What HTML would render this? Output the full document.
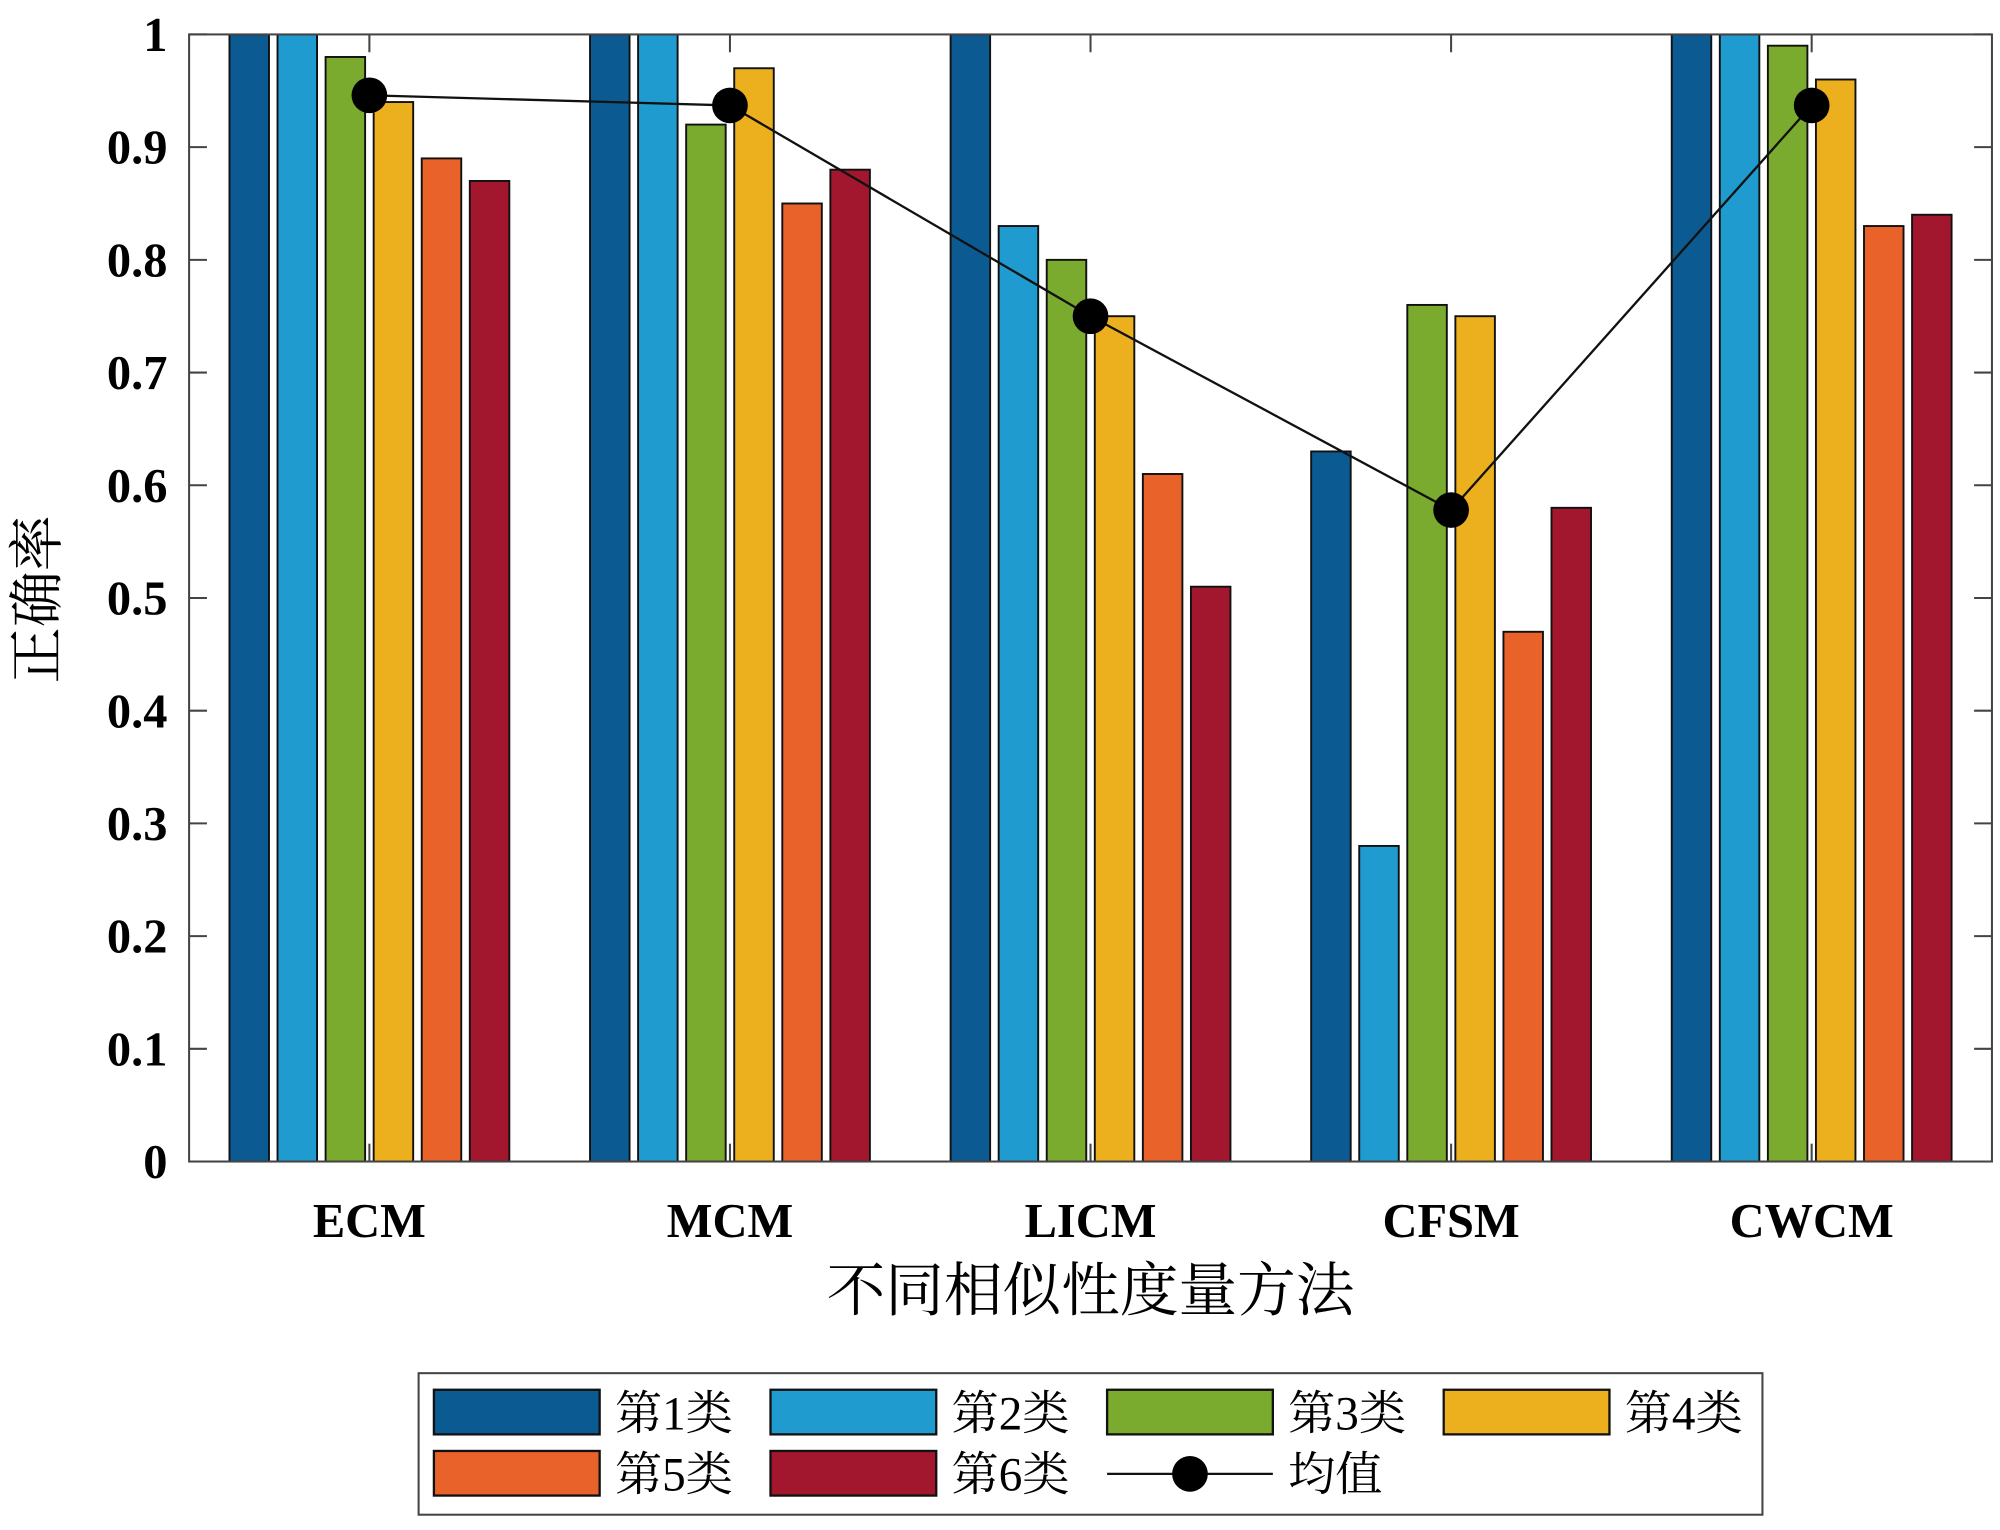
<!DOCTYPE html>
<html><head><meta charset="utf-8"><style>
html,body{margin:0;padding:0;background:#fff}
svg{display:block}
text{font-family:"Liberation Serif","Noto Serif CJK SC",serif;fill:#000}
</style></head><body>
<svg id="chart" width="2000" height="1530" viewBox="0 0 1568 1200" xmlns="http://www.w3.org/2000/svg">
<g id="plot"></g>
</svg>
<script>
const categories = ["ECM","MCM","LICM","CFSM","CWCM"];
const seriesNames = ["第1类","第2类","第3类","第4类","第5类","第6类"];
const s1 = [1,1,1,0.63,1];
const s2 = [1,1,0.83,0.28,1];
const s3 = [0.98,0.92,0.80,0.76,0.99];
const s4 = [0.94,0.97,0.75,0.75,0.96];
const s5 = [0.89,0.85,0.61,0.47,0.83];
const s6 = [0.87,0.88,0.51,0.58,0.84];
const meanValues = [0.946,0.937,0.75,0.578,0.937];
const yTicks = [0,0.1,0.2,0.3,0.4,0.5,0.6,0.7,0.8,0.9,1];
const yTickLabels = ["0","0.1","0.2","0.3","0.4","0.5","0.6","0.7","0.8","0.9","1"];

const colors = ["#0b5b92","#1f9bd0","#7aab2e","#ecb01f","#e8622a","#a2172d"];
const series = [s1,s2,s3,s4,s5,s6];
const L=148,R=1562,T=27,B=911;
const NS="http://www.w3.org/2000/svg";
const g=document.getElementById('plot');
function xScale(i){return L+(i+0.5)*(R-L)/categories.length;}
function yScale(v){return B-(v-0)/(1-0)*(B-T);}
function mk(tag,attrs,parent){const e=document.createElementNS(NS,tag);for(const k in attrs)e.setAttribute(k,attrs[k]);(parent||g).appendChild(e);return e;}

const clip=mk('clipPath',{id:'pc'});mk('rect',{x:L,y:T,width:R-L,height:B-T},clip);
const barsG=mk('g',{'clip-path':'url(#pc)'});
const step=37.7,bw=31;
series.forEach((s,si)=>{
  s.forEach((v,ci)=>{
    const x=xScale(ci)+(si-2.5)*step-bw/2;
    const r=mk('rect',{x:x,y:yScale(v),width:bw,height:B-yScale(v),fill:colors[si],stroke:'#111','stroke-width':1.5},barsG);
    
    
  });
});
const box=mk('rect',{x:L,y:T,width:R-L,height:B-T,fill:'none',stroke:'#444','stroke-width':1.6});


yTicks.forEach((t,i)=>{
  const y=yScale(t);
  mk('line',{x1:L,x2:L+14,y1:y,y2:y,stroke:'#444','stroke-width':1.6});
  mk('line',{x1:R,x2:R-14,y1:y,y2:y,stroke:'#444','stroke-width':1.6});
  const tx=mk('text',{x:131,y:y+13,'text-anchor':'end','font-size':38,'font-weight':'bold'});
  tx.textContent=yTickLabels[i];
  
  
});
categories.forEach((c,i)=>{
  const x=xScale(i);
  mk('line',{x1:x,x2:x,y1:B,y2:B-14,stroke:'#444','stroke-width':1.6});
  mk('line',{x1:x,x2:x,y1:T,y2:T+14,stroke:'#444','stroke-width':1.6});
  const tx=mk('text',{x:x,y:970,'text-anchor':'middle','font-size':38,'font-weight':'bold'});
  tx.textContent=c;
  
  
});
const pts=meanValues.map((v,i)=>xScale(i)+','+yScale(v)).join(' ');
const pl=mk('polyline',{points:pts,fill:'none',stroke:'#111','stroke-width':1.8});


meanValues.forEach((v,i)=>{
  const c=mk('circle',{cx:xScale(i),cy:yScale(v),r:14,fill:'#000'});
  
  
});
const xt=mk('text',{x:855,y:1028,'text-anchor':'middle','font-size':46});
xt.textContent='不同相似性度量方法';


const yt=mk('text',{x:0,y:0,'text-anchor':'middle','font-size':44,transform:'translate(44,470) rotate(-90)'});
yt.textContent='正确率';


const lg=mk('g',{});


mk('rect',{x:328,y:1077,width:1054,height:111,fill:'#fff',stroke:'#444','stroke-width':1.6},lg);
const colX=[340,604,868,1132],rowY=[1090,1138];
const entries=seriesNames.map((n,i)=>({n:n,c:colors[i]}));
entries.push({n:'均值',line:true});
entries.forEach((e,i)=>{
  const cx=colX[i%4],ry=rowY[Math.floor(i/4)];
  const eg=mk('g',{},lg);
  
  
  if(e.line){
    mk('line',{x1:cx,x2:cx+130,y1:ry+18,y2:ry+18,stroke:'#111','stroke-width':1.8},eg);
    mk('circle',{cx:cx+65,cy:ry+18,r:14,fill:'#000'},eg);
  } else {
    mk('rect',{x:cx,y:ry,width:130,height:35,fill:e.c,stroke:'#111','stroke-width':1.8},eg);
  }
  const t=mk('text',{x:cx+142,y:ry+31,'font-size':37},eg);
  t.textContent=e.n;
});
</script>
</body></html>
